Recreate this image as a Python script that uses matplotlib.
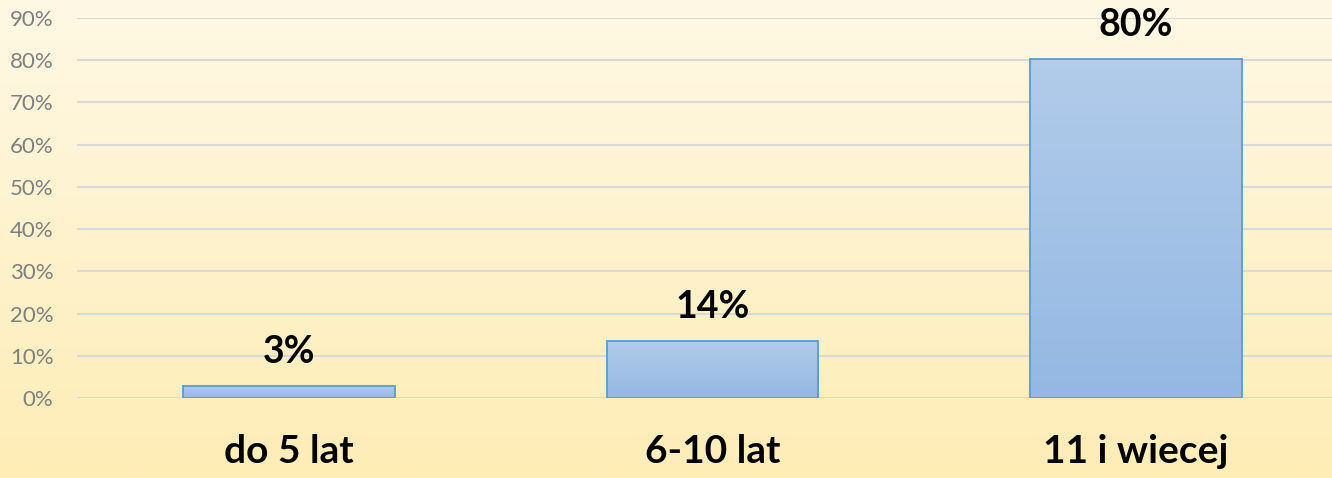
import numpy as np
import matplotlib
matplotlib.use('Agg')
import matplotlib.pyplot as plt
from matplotlib.colors import LinearSegmentedColormap

categories = ['do 5 lat', '6-10 lat', '11 i wiecej']
values = [2.9, 13.6, 80.2]
yticks = [0, 10, 20, 30, 40, 50, 60, 70, 80, 90]

plt.rcParams['font.family'] = ['Lato', 'DejaVu Sans']

fig = plt.figure(figsize=(13.32, 4.78), dpi=100)

# background gradient over the whole figure
bg = fig.add_axes([0, 0, 1, 1], zorder=-1)
bg_cmap = LinearSegmentedColormap.from_list('bg', ['#FFEDB6', '#FEF8E5'])
bg.imshow(np.linspace(0, 1, 256).reshape(-1, 1), cmap=bg_cmap, aspect='auto',
          origin='lower', extent=[0, 1, 0, 1])
bg.axis('off')

ax = fig.add_axes([77 / 1332, 1 - 398.3 / 478, 1271 / 1332, (398.3 - 17.7) / 478])
ax.patch.set_alpha(0)

x = np.arange(len(categories))
bars = ax.bar(x, values, width=0.5, facecolor='none', edgecolor='#5B9BD5',
              linewidth=1.3, zorder=3)

bar_cmap = LinearSegmentedColormap.from_list('bar', ['#94B8E3', '#B2CCEA'])
grad = np.linspace(0, 1, 256).reshape(-1, 1)
for b in bars:
    x0, y0 = b.get_x(), b.get_y()
    w, h = b.get_width(), b.get_height()
    im = ax.imshow(grad, cmap=bar_cmap, aspect='auto', origin='lower',
                   extent=[x0, x0 + w, y0, y0 + h], zorder=2)
    im.set_clip_path(b)

for xi, v in zip(x, values):
    ax.text(xi, v + 5.4, '%d%%' % round(v), ha='center', va='baseline',
            fontsize=27, fontweight='bold', color='black')

ax.set_xlim(-0.5, 2.5)
ax.set_ylim(0, 90)
ax.set_yticks(yticks)
ax.set_yticklabels(['%d%%' % t for t in yticks])
ax.set_xticks(x)
ax.set_xticklabels(categories, fontsize=28, fontweight='bold')
ax.tick_params(axis='x', length=0, pad=26)
ax.tick_params(axis='y', length=0, pad=17, labelsize=16, labelcolor='#7F7F7F')
ax.grid(axis='y', color='#D9D9D9', linewidth=1.5, zorder=0)
for s in ax.spines.values():
    s.set_visible(False)

fig.savefig('out.png', dpi=100)
